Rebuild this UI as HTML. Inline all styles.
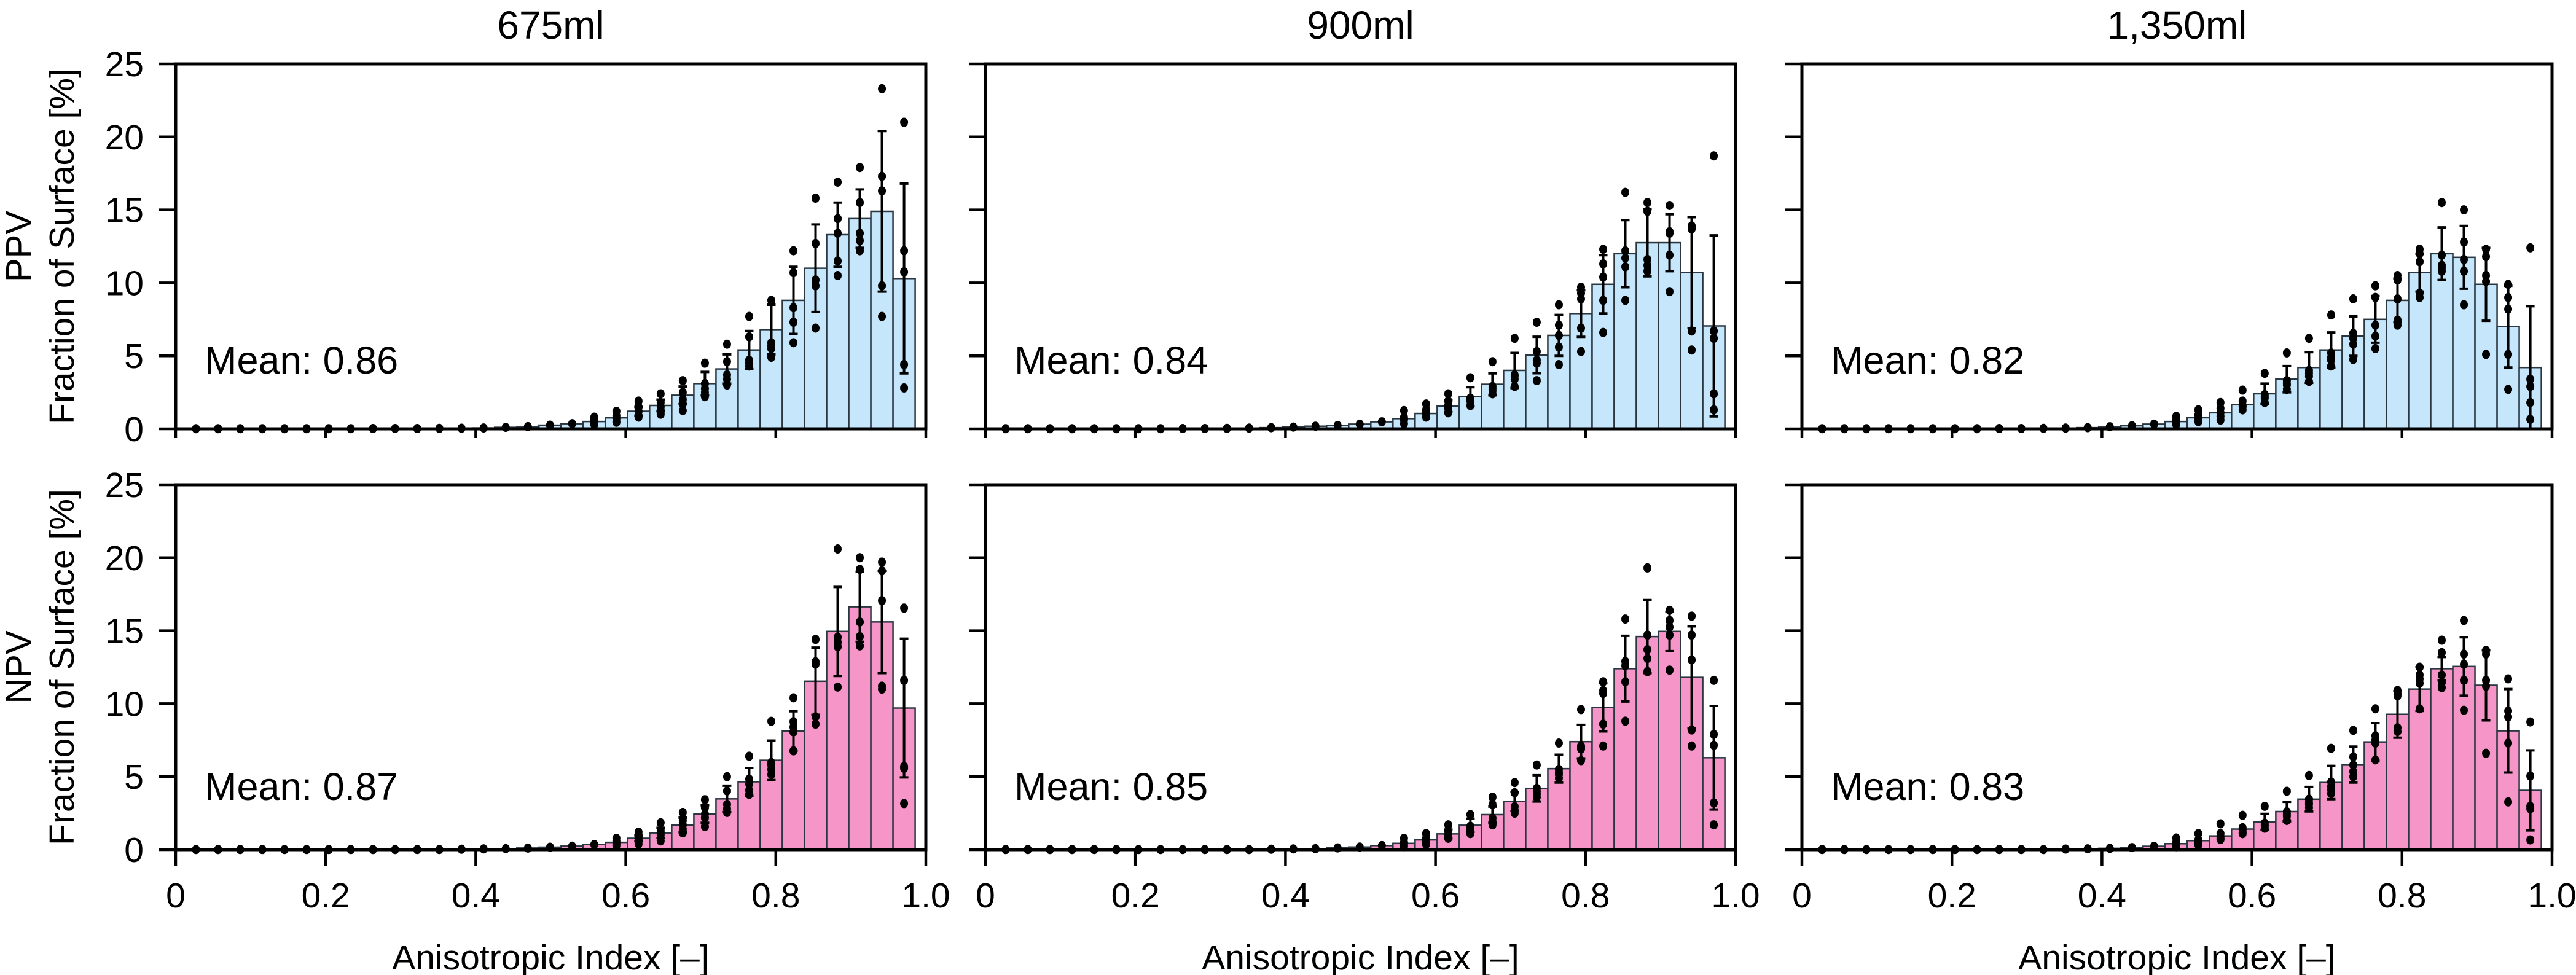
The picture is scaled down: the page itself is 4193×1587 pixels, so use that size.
<!DOCTYPE html>
<html><head><meta charset="utf-8">
<style>
html,body{margin:0;padding:0;background:#fff;}
svg{display:block;font-family:"Liberation Sans",Arial,sans-serif;}
</style></head>
<body>
<svg id="fig" width="4193" height="1587" viewBox="0 0 4193 1587" xmlns="http://www.w3.org/2000/svg"></svg>
<script>
// ---- data ----
const binCenters = [0.027,0.0565,0.086,0.1155,0.145,0.1745,0.204,0.2335,0.263,0.2925,0.322,0.3515,0.381,0.4105,0.44,0.4695,0.499,0.5285,0.558,0.5875,0.617,0.6465,0.676,0.7055,0.735,0.7645,0.794,0.8235,0.853,0.8825,0.912,0.9415,0.971];
const binWidth = 0.0295;
const yTicks = [0,5,10,15,20,25];
const yTickLabels = ["0","5","10","15","20","25"];
const xTicks = [0,0.2,0.4,0.6,0.8,1.0];
const xTickLabels = ["0","0.2","0.4","0.6","0.8","1.0"];
const columnTitles = ["675ml","900ml","1,350ml"];
const rowLabels = ["PPV","NPV"];
const meanLabels = [["Mean: 0.86","Mean: 0.84","Mean: 0.82"],["Mean: 0.87","Mean: 0.85","Mean: 0.83"]];
const errStartBin = 20;

const ppv675 = [0.01,0.01,0.01,0.01,0.01,0.01,0.01,0.01,0.02,0.02,0.02,0.03,0.04,0.06,0.1,0.15,0.25,0.35,0.5,0.75,1.2,1.6,2.3,3.1,4.1,5.4,6.8,8.8,11.0,13.3,14.4,14.9,10.3];
const ppv675Err = [0.3,0.4,0.6,0.8,1.0,1.3,1.7,2.3,3.0,2.2,2.0,5.5,6.5];
const ppv675DotStart = 18;
const ppv675Dots = [[0.8,0.6,0.5,0.35,0.3],[1.2,0.9,0.7,0.5,0.45],[1.9,1.5,1.2,0.9,0.8],[2.4,1.8,1.5,1.0,1.3],[3.3,2.5,2.0,1.25,1.7],[4.5,3.1,2.5,2.2,2.75],[5.8,4.6,3.7,3.4,3.0],[7.7,6.3,4.5,4.3,4.7],[8.8,5.9,5.5,4.9,5.7],[12.2,10.7,8.3,7.3,5.9],[15.8,12.7,10.2,9.8,6.9],[16.9,14.4,13.4,11.5,10.5],[17.9,15.5,13.4,12.9,12.2],[23.3,17.3,16.3,9.8,7.7],[21.0,12.2,10.75,4.4,2.8]];

const ppv900 = [0.01,0.01,0.01,0.01,0.01,0.01,0.01,0.01,0.02,0.02,0.03,0.05,0.08,0.12,0.18,0.23,0.32,0.48,0.7,1.05,1.55,2.2,3.05,4.0,5.06,6.4,7.9,9.9,12.0,12.75,12.75,10.7,7.05];
const ppv900Err = [0.4,0.65,0.75,1.2,1.25,1.4,1.6,2.0,2.3,2.3,1.95,3.8,6.2];
const ppv900DotStart = 18;
const ppv900Dots = [[1.25,0.8,0.35,0.7,0.6],[1.7,1.3,0.8,1.0,1.1],[2.4,1.9,1.4,1.1,1.6],[3.5,2.1,1.9,1.6,2.0],[4.6,2.9,2.75,2.4,2.6],[6.2,3.7,3.4,2.9,3.6],[7.3,5.3,4.7,4.5,3.3],[8.5,7.1,6.4,5.6,4.4],[9.7,8.9,6.9,5.3,9.3],[12.3,11.3,10.4,8.8,6.6],[16.2,12.2,11.7,11.1,8.8],[15.5,14.9,11.6,11.2,10.8],[15.3,13.5,11.9,9.4,13.4],[13.9,13.7,6.7,5.4,13.8],[18.7,6.7,6.2,2.4,1.3]];

const ppv1350 = [0.01,0.01,0.01,0.01,0.01,0.01,0.01,0.01,0.02,0.02,0.03,0.05,0.08,0.14,0.21,0.32,0.5,0.76,1.1,1.65,2.4,3.4,4.2,5.4,6.35,7.5,8.8,10.7,12.0,11.75,9.9,7.0,4.2];
const ppv1350Err = [0.7,0.9,1.05,1.2,1.35,1.6,1.5,1.3,1.8,2.15,2.5,2.8,4.2];
const ppv1350DotStart = 16;
const ppv1350Dots = [[0.85,0.3,0.5,0.4,0.6],[1.3,0.95,0.5,0.7,0.6],[1.8,1.4,0.85,0.6,1.1],[2.65,1.9,1.5,1.3,1.6],[3.8,2.35,2.1,1.8,2.2],[5.2,3.3,3.0,2.7,3.1],[6.2,4.0,3.6,3.25,3.8],[7.8,5.2,4.7,4.3,4.9],[8.9,6.55,5.8,4.75,6.2],[9.8,9.0,7.1,6.35,5.5],[10.5,10.2,8.9,7.45,7.1],[12.3,11.45,9.3,9.0,12.0],[15.5,11.9,11.2,10.8,11.0],[15.0,12.8,11.6,10.8,8.5],[12.3,11.8,10.5,10.1,5.1],[9.9,9.0,8.2,5.1,2.7],[12.4,3.4,2.9,1.8,0.65]];

const npv675 = [0.01,0.01,0.01,0.01,0.01,0.01,0.01,0.01,0.01,0.01,0.01,0.01,0.03,0.05,0.07,0.11,0.17,0.24,0.35,0.5,0.78,1.15,1.69,2.44,3.48,4.65,6.12,8.13,11.54,14.95,16.64,15.6,9.7];
const npv675Err = [0.2,0.35,0.5,0.6,0.9,0.95,1.35,1.35,2.3,3.05,2.4,3.5,4.75];
const npv675DotStart = 19;
const npv675Dots = [[0.78,0.5,0.28,0.4,0.6],[1.2,0.8,0.39,0.7,0.9],[1.84,1.15,0.6,1.0,1.3],[2.55,2.0,1.15,1.69,1.4],[3.42,2.88,2.18,1.58,2.44],[5.0,4.02,3.1,2.55,2.8],[6.4,4.83,4.07,3.79,4.5],[8.79,5.97,5.8,5.15,5.5],[10.4,8.77,8.07,6.77,8.4],[14.4,12.87,9.1,8.6,12.7],[20.6,14.56,13.9,11.14,14.2],[20.0,19.2,15.6,14.6,13.96],[19.7,19.1,17.06,11.2,11.0],[16.55,11.6,5.58,3.16,5.7]];

const npv900 = [0.01,0.01,0.01,0.01,0.01,0.01,0.01,0.01,0.01,0.01,0.01,0.01,0.03,0.05,0.07,0.12,0.18,0.28,0.43,0.67,1.08,1.67,2.4,3.3,4.2,5.55,7.4,9.75,12.4,14.6,14.95,11.8,6.3];
const npv900Err = [0.3,0.45,0.55,0.65,0.9,0.95,1.15,1.65,2.25,2.5,1.35,3.5,3.55];
const npv900DotStart = 18;
const npv900Dots = [[0.78,0.43,0.3,0.5,0.2],[1.1,0.78,0.37,0.6,0.5],[1.7,1.25,0.78,1.0,0.9],[2.4,1.45,1.1,1.3,1.6],[3.6,3.1,2.15,1.7,1.9],[4.6,3.9,2.95,2.5,2.7],[5.8,4.2,3.8,3.6,4.0],[7.3,5.5,5.15,4.9,5.3],[9.6,7.1,6.9,6.1,7.0],[11.5,10.9,10.7,8.6,7.1],[15.8,12.9,11.5,8.8,12.6],[19.3,14.7,13.7,13.1,12.2],[16.4,15.7,15.25,14.7,12.3],[16.0,14.7,13.0,8.2,7.1],[11.6,7.9,7.15,3.2,1.7]];

const npv1350 = [0.01,0.01,0.01,0.01,0.01,0.01,0.01,0.01,0.01,0.01,0.01,0.04,0.06,0.09,0.14,0.23,0.41,0.62,0.94,1.41,1.9,2.61,3.46,4.6,5.83,7.38,9.27,11.0,12.4,12.55,11.26,8.14,4.06];
const npv1350Err = [0.55,0.67,0.84,1.14,1.23,1.29,1.6,1.5,0.8,2.0,2.4,2.86,2.74];
const npv1350DotStart = 16;
const npv1350Dots = [[0.8,0.3,0.4,0.5,0.2],[1.1,0.67,0.32,0.5,0.6],[1.77,1.1,0.76,0.9,0.7],[2.35,1.38,1.1,1.2,1.5],[2.97,1.82,1.47,1.7,1.6],[4.0,2.44,2.0,2.3,2.6],[5.08,3.46,3.23,2.88,3.1],[6.94,4.64,4.34,3.85,4.1],[8.17,6.36,5.35,5.0,5.8],[9.65,7.8,7.3,6.15,7.5],[10.9,10.55,8.35,8.1,10.7],[12.5,11.97,11.4,9.65,11.7],[14.35,13.5,11.97,11.45,11.1],[15.7,13.4,12.7,11.6,9.55],[13.65,13.4,11.6,11.2,6.6],[11.7,9.5,9.1,7.3,3.27],[8.75,5.05,2.97,2.8,0.67]];

// ---- layout ----
const NS = "http://www.w3.org/2000/svg";
const svg = document.getElementById('fig');
const panelLefts = [286,1604,2933];
const panelW = 1221;
const rowTops = [104,789];
const panelH = 594;
const fills = ["#c6e7fb","#f595c8"];

function mk(tag, attrs, parent){
  const e = document.createElementNS(NS, tag);
  for (const k in attrs) e.setAttribute(k, attrs[k]);
  (parent||svg).appendChild(e);
  return e;
}

const panels = [
  [[ppv675,ppv675Err,ppv675DotStart,ppv675Dots],[ppv900,ppv900Err,ppv900DotStart,ppv900Dots],[ppv1350,ppv1350Err,ppv1350DotStart,ppv1350Dots]],
  [[npv675,npv675Err,npv675DotStart,npv675Dots],[npv900,npv900Err,npv900DotStart,npv900Dots],[npv1350,npv1350Err,npv1350DotStart,npv1350Dots]]
];

columnTitles.forEach((t,c)=>{
  const e = mk('text',{x:panelLefts[c]+panelW/2, y:63, 'text-anchor':'middle','font-size':64, fill:'#000'});
  
  
  e.textContent = t;
});

for (let r=0;r<2;r++){
  const cy = rowTops[r]+panelH/2;
  const rl = mk('text',{x:50,y:cy,'text-anchor':'middle','font-size':58,transform:`rotate(-90 50 ${cy})`});
  
  
  rl.textContent = rowLabels[r];
  const yl = mk('text',{x:120,y:cy,'text-anchor':'middle','font-size':57,transform:`rotate(-90 120 ${cy})`});
  
  
  yl.textContent = 'Fraction of Surface [%]';

  for (let c=0;c<3;c++){
    const [vals, errs, dStart, dots] = panels[r][c];
    const L = panelLefts[c], T = rowTops[r];
    const xs = v => L + v*panelW;
    const ys = v => T + panelH - v/25*panelH;
    const g = mk('g',{});
    
    

    vals.forEach((v,i)=>{
      const x0 = xs(binCenters[i]-binWidth/2), x1 = xs(binCenters[i]+binWidth/2);
      const b = mk('rect',{x:x0,y:ys(v),width:x1-x0,height:ys(0)-ys(v),fill:fills[r],stroke:'#2a3640','stroke-width':2.5},g);
      
      
    });
    errs.forEach((sd,k)=>{
      const i = errStartBin+k, v = vals[i], cx = xs(binCenters[i]);
      const lo = Math.max(0, v-sd), hi = v+sd;
      const eb = mk('path',{d:`M${cx},${ys(lo)}V${ys(hi)}M${cx-7},${ys(hi)}H${cx+7}M${cx-7},${ys(lo)}H${cx+7}`,stroke:'#000','stroke-width':4,fill:'none'},g);
      
      
    });
    vals.forEach((v,i)=>{
      const cx = xs(binCenters[i]);
      const pts = i>=dStart ? dots[i-dStart] : [v];
      pts.forEach(p=>{
        const d = mk('ellipse',{cx:cx,cy:ys(p),rx:6.5,ry:7.5,fill:'#000'},g);
        
        
      });
    });
    const fr = mk('rect',{x:L,y:T,width:panelW,height:panelH,fill:'none',stroke:'#000','stroke-width':5},g);
    
    
    yTicks.forEach((t,k)=>{
      const tk = mk('line',{x1:L-27,x2:L,y1:ys(t),y2:ys(t),stroke:'#000','stroke-width':4.5},g);
      
      
      if (c===0){
        const tl = mk('text',{x:L-52,y:ys(t)+20,'text-anchor':'end','font-size':57},g);
        
        
        tl.textContent = yTickLabels[k];
      }
    });
    xTicks.forEach((t,k)=>{
      const len = r===0 ? 15 : 27;
      const tk = mk('line',{x1:xs(t),x2:xs(t),y1:ys(0),y2:ys(0)+len,stroke:'#000','stroke-width':4.5},g);
      
      
      if (r===1){
        const tl = mk('text',{x:xs(t),y:1477,'text-anchor':'middle','font-size':57},g);
        
        
        tl.textContent = xTickLabels[k];
      }
    });
    const ml = mk('text',{x:L+47,y:r===0?608:1302,'font-size':63},g);
    
    
    ml.textContent = meanLabels[r][c];
    if (r===1){
      const xl = mk('text',{x:L+panelW/2,y:1578,'text-anchor':'middle','font-size':57},g);
      
      
      xl.textContent = 'Anisotropic Index [–]';
    }
  }
}
</script>
</body></html>
